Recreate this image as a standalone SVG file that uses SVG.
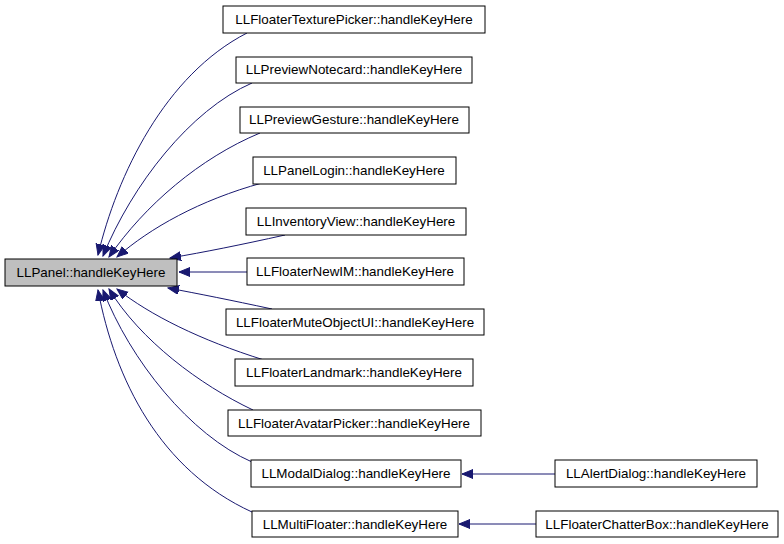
<svg xmlns="http://www.w3.org/2000/svg" width="784" height="544" viewBox="0 0 784 544">
<style>
.n rect{fill:#fff;stroke:#000;stroke-width:1}
#n0 rect{fill:#bfbfbf}
text{font-family:"Liberation Sans",Arial,sans-serif;font-size:13.4px;text-anchor:middle;fill:#000}
#edges path{fill:none;stroke:#191970;stroke-width:1;marker-end:url(#ah)}
</style>
<defs>
<marker id="ah" markerUnits="userSpaceOnUse" markerWidth="12" markerHeight="10" refX="11" refY="4.5" orient="auto">
<polygon points="0,0 11,4.5 0,9" fill="#191970" stroke="#191970"/>
</marker>
</defs>
<rect width="784" height="544" fill="#fff"/>
<g id="edges">
<path d="M247,33 C165,75 117,175 98,255"/>
<path d="M252,83 C190,110 132,185 103,256"/>
<path d="M260,133 C200,158 145,205 109,257"/>
<path d="M262,183 C200,200 150,228 117,257"/>
<path d="M285,235 C240,245 205,252 170,258"/>
<path d="M247,272 L179,272"/>
<path d="M272,309 C230,300 200,294 168,288"/>
<path d="M264,360 C200,340 150,315 117,289"/>
<path d="M253,410 C200,385 140,340 109,289"/>
<path d="M252,462 C190,435 130,360 103,290"/>
<path d="M252,512 C160,470 115,380 98,290"/>
<path d="M555,474 L462,474"/>
<path d="M536,524 L459,524"/>
</g>
<g id="n0" class="n"><rect x="5" y="259" width="172" height="27"/><text x="91" y="277">LLPanel::handleKeyHere</text></g>
<g id="n1" class="n"><rect x="223" y="6" width="262" height="27"/><text x="354" y="24">LLFloaterTexturePicker::handleKeyHere</text></g>
<g id="n2" class="n"><rect x="236" y="57" width="236" height="26"/><text x="354" y="74">LLPreviewNotecard::handleKeyHere</text></g>
<g id="n3" class="n"><rect x="240" y="107" width="229" height="26"/><text x="354" y="124">LLPreviewGesture::handleKeyHere</text></g>
<g id="n4" class="n"><rect x="253" y="157" width="203" height="27"/><text x="354" y="175">LLPanelLogin::handleKeyHere</text></g>
<g id="n5" class="n"><rect x="246" y="208" width="220" height="27"/><text x="356" y="226">LLInventoryView::handleKeyHere</text></g>
<g id="n6" class="n"><rect x="247" y="258" width="217" height="27"/><text x="355" y="276">LLFloaterNewIM::handleKeyHere</text></g>
<g id="n7" class="n"><rect x="226" y="309" width="258" height="26"/><text x="355" y="327">LLFloaterMuteObjectUI::handleKeyHere</text></g>
<g id="n8" class="n"><rect x="235" y="359" width="238" height="27"/><text x="354" y="377">LLFloaterLandmark::handleKeyHere</text></g>
<g id="n9" class="n"><rect x="228" y="410" width="253" height="26"/><text x="354" y="428">LLFloaterAvatarPicker::handleKeyHere</text></g>
<g id="n10" class="n"><rect x="251" y="460" width="210" height="27"/><text x="356" y="478">LLModalDialog::handleKeyHere</text></g>
<g id="n11" class="n"><rect x="252" y="511" width="206" height="26"/><text x="355" y="529">LLMultiFloater::handleKeyHere</text></g>
<g id="n12" class="n"><rect x="555" y="460" width="202" height="27"/><text x="656" y="478">LLAlertDialog::handleKeyHere</text></g>
<g id="n13" class="n"><rect x="536" y="511" width="242" height="26"/><text x="657" y="529">LLFloaterChatterBox::handleKeyHere</text></g>
</svg>
